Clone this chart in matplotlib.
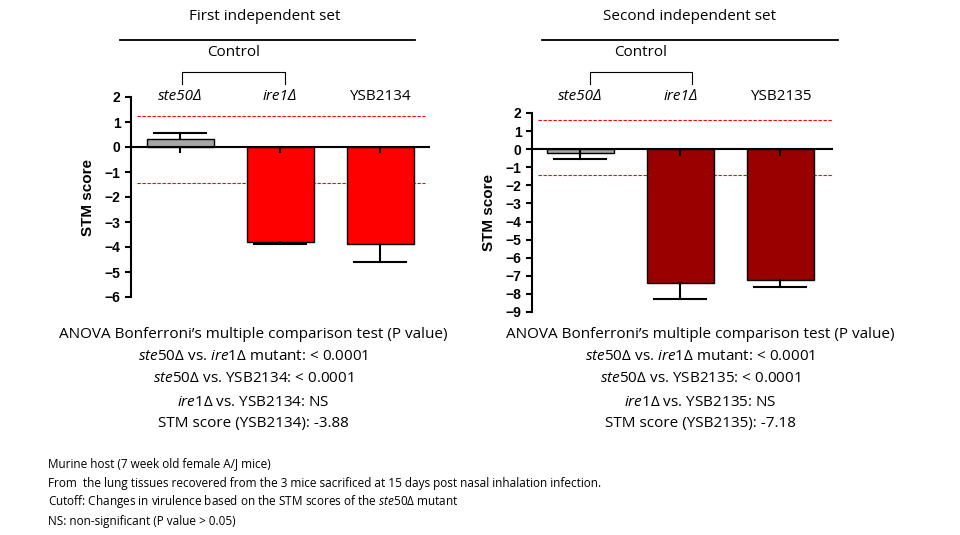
import matplotlib
matplotlib.use('Agg')
import matplotlib.pyplot as plt

plt.rcParams['font.family'] = ['Open Sans', 'DejaVu Sans']
plt.rcParams['mathtext.fontset'] = 'custom'
plt.rcParams['mathtext.rm'] = 'Open Sans'
plt.rcParams['mathtext.it'] = 'Open Sans:italic'

strains1 = ['ste50Δ', 'ire1Δ', 'YSB2134']
scores1 = [0.33, -3.78, -3.88]
errs1 = [0.24, 0.09, 0.72]
cut1 = [1.25, -1.45]

strains2 = ['ste50Δ', 'ire1Δ', 'YSB2135']
scores2 = [-0.2, -7.4, -7.25]
errs2 = [0.35, 0.9, 0.35]
cut2 = [1.6, -1.4]

W, H = 960, 535
fig = plt.figure(figsize=(9.6, 5.35), dpi=100)

def px(x, y):
    return x / W, 1 - y / H

def panel(rect, scores, errs, cut, color, ylim, xlim, lineend):
    ax = fig.add_axes(rect)
    xs = range(len(scores))
    cols = ['#a6a6a6'] + [color] * (len(scores) - 1)
    for c in cut:
        ax.plot([xlim[0] + 0.06, lineend], [c, c], ls='--', color='red', lw=0.8, dashes=(3, 1.5), zorder=1)
    ax.bar(xs, scores, width=0.67, color=cols, edgecolor='black', lw=1, zorder=2)
    for x, s, e in zip(xs, scores, errs):
        sign = 1 if s > 0 else -1
        ax.plot([x, x], [s, s + sign * e], color='black', lw=1.5, zorder=3)
        ax.plot([x - 0.26, x + 0.26], [s + sign * e] * 2, color='black', lw=1.5, zorder=3)
        ax.plot([x, x], [0, -0.2 if ylim[0] > -7 else -0.3], color='black', lw=1.5, zorder=3)
    ax.axhline(0, color='black', lw=1.5, zorder=4)
    ax.set_xlim(xlim)
    ax.set_ylim(ylim)
    ax.set_yticks(range(int(ylim[0]), int(ylim[1]) + 1))
    ax.set_xticks([])
    for s in ['top', 'right', 'bottom']:
        ax.spines[s].set_visible(False)
    ax.spines['left'].set_linewidth(1.5)
    ax.tick_params(axis='y', width=1.5, length=4, labelsize=10)
    for t in ax.get_yticklabels():
        t.set_fontweight('bold')
        t.set_family('Liberation Sans')
    ax.set_ylabel('STM score', fontweight='bold', family='Liberation Sans', fontsize=11)
    return ax

ax1 = panel([131 / W, 1 - 297 / H, 299 / W, 200 / H], scores1, errs1, cut1, '#ff0000', (-6, 2), (-0.49, 2.5), 2.45)
ax2 = panel([532 / W, 1 - 312 / H, 301 / W, 199 / H], scores2, errs2, cut2, '#990000', (-9, 2), (-0.48, 2.53), 2.53)
ax1.yaxis.set_label_coords(-0.12, 0.5)
ax2.yaxis.set_label_coords(-0.12, 0.5)

def header(cx, title, l0, l1, centers, names, brx):
    fig.text(*px(cx, 17), title, ha='center', va='center', fontsize=11)
    fig.add_artist(plt.Line2D([l0 / W, l1 / W], [1 - 40 / H] * 2, color='black', lw=1.3))
    fig.text(*px((brx[0] + brx[1]) / 2, 53), 'Control', ha='center', va='center', fontsize=11)
    xb = [brx[0] / W, brx[0] / W, brx[1] / W, brx[1] / W]
    yb = [1 - 84 / H, 1 - 72 / H, 1 - 72 / H, 1 - 84 / H]
    fig.add_artist(plt.Line2D(xb, yb, color='black', lw=0.8))
    for c, n in zip(centers, names):
        style = 'italic' if n.endswith('Δ') else 'normal'
        fig.text(*px(c, 97), n, ha='center', va='center', fontsize=11, style=style)

header(265, 'First independent set', 120, 415, [180, 280, 380], strains1, (182, 285))
header(690, 'Second independent set', 542, 838, [580, 681, 781], strains2, (590, 692))

def stats(cx, strain):
    lines = ['ANOVA Bonferroni\u2019s multiple comparison test (P value)',
             r'$\mathit{ste50}\Delta$ vs. $\mathit{ire1}\Delta$ mutant: < 0.0001',
             r'$\mathit{ste50}\Delta$ vs. ' + strain + ': < 0.0001',
             r'$\mathit{ire1}\Delta$ vs. ' + strain + ': NS',
             'STM score (' + strain + '): ' + ('-3.88' if strain == 'YSB2134' else '-7.18')]
    for y, t in zip([335, 356, 379, 402, 424], lines):
        fig.text(*px(cx, y), t, ha='center', va='center', fontsize=11)

stats(253, 'YSB2134')
stats(700, 'YSB2135')

notes = ['Murine host (7 week old female A/J mice)',
         'From  the lung tissues recovered from the 3 mice sacrificed at 15 days post nasal inhalation infection.',
         r'Cutoff: Changes in virulence based on the STM scores of the $\mathit{ste50}\Delta$ mutant',
         'NS: non-significant (P value > 0.05)']
for y, t in zip([464, 483, 502, 522], notes):
    fig.text(*px(48, y), t, ha='left', va='center', fontsize=8.5)

fig.savefig('out.png', dpi=100)
